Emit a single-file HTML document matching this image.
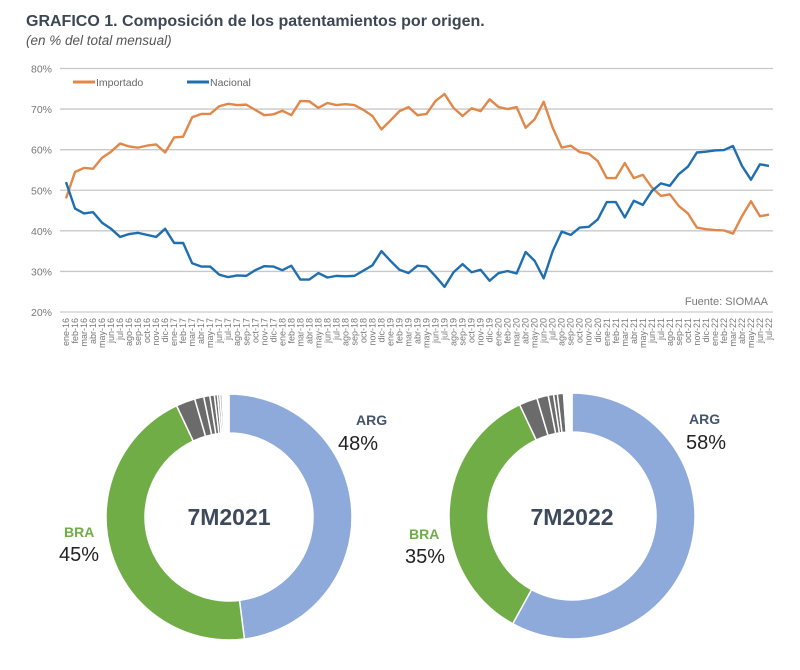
<!DOCTYPE html>
<html><head><meta charset="utf-8">
<style>
body{margin:0;background:#fff;width:800px;height:665px;overflow:hidden;font-family:"Liberation Sans",sans-serif;}
svg text{font-family:"Liberation Sans",sans-serif;}
</style></head>
<body>
<svg id="c" width="800" height="665" xmlns="http://www.w3.org/2000/svg">
<text x="26" y="26" font-size="16" font-weight="bold" fill="#3d4654">GRAFICO 1. Composición de los patentamientos por origen.</text>
<text x="26" y="45" font-size="13.5" font-style="italic" fill="#555">(en % del total mensual)</text>
<g id="grid"></g>
<g id="lines"></g>
<g id="xlabels"></g>
<line x1="73" y1="82" x2="95" y2="82" stroke="#e0884a" stroke-width="3"/>
<text x="96" y="86" font-size="10.5" fill="#666">Importado</text>
<line x1="187" y1="82" x2="209" y2="82" stroke="#1f6fae" stroke-width="3"/>
<text x="210" y="86" font-size="10.5" fill="#666">Nacional</text>
<text x="768" y="305" font-size="11" fill="#777" text-anchor="end">Fuente: SIOMAA</text>
<g id="donuts"></g>
<text x="356" y="425" font-size="14" font-weight="bold" fill="#44546a">ARG</text>
<text x="338" y="450" font-size="20" fill="#222">48%</text>
<text x="64" y="537" font-size="14" font-weight="bold" fill="#70ad47">BRA</text>
<text x="59" y="561" font-size="20" fill="#222">45%</text>
<text x="229" y="525" font-size="23" font-weight="bold" fill="#3d4a5c" text-anchor="middle">7M2021</text>
<text x="689" y="424" font-size="14" font-weight="bold" fill="#44546a">ARG</text>
<text x="686" y="449" font-size="20" fill="#222">58%</text>
<text x="409" y="539" font-size="14" font-weight="bold" fill="#70ad47">BRA</text>
<text x="405" y="563" font-size="20" fill="#222">35%</text>
<text x="572" y="525" font-size="23" font-weight="bold" fill="#3d4a5c" text-anchor="middle">7M2022</text>
</svg>
<script>
const importado=[48,54.5,55.5,55.3,58,59.5,61.5,60.8,60.5,61,61.3,59.3,63,63.2,68,68.8,68.8,70.7,71.3,71,71.1,69.8,68.5,68.7,69.6,68.5,72,71.9,70.3,71.5,71,71.2,71,69.8,68.3,65,67.2,69.5,70.5,68.5,68.8,72,73.7,70.3,68.3,70.2,69.5,72.4,70.5,70,70.5,65.4,67.5,71.8,65.4,60.5,61,59.4,59,57.2,53,53,56.7,53,53.8,50.7,48.6,49,46.1,44.3,40.8,40.4,40.2,40.1,39.3,43.6,47.3,43.6,44];
const nacional=[52,45.5,44.3,44.6,42,40.5,38.5,39.2,39.5,39,38.5,40.5,37,37,32,31.2,31.2,29.2,28.6,29,28.9,30.3,31.3,31.2,30.3,31.4,28,28,29.6,28.5,28.9,28.8,28.9,30.2,31.5,35,32.6,30.4,29.6,31.4,31.2,28.8,26.2,29.8,31.8,29.8,30.4,27.7,29.6,30.1,29.5,34.8,32.6,28.3,35,39.8,39,40.8,41,42.8,47.1,47.1,43.3,47.4,46.4,49.8,51.7,51.1,54,55.8,59.3,59.5,59.8,59.9,60.9,56,52.6,56.4,56];
const monthNames=["ene","feb","mar","abr","may","jun","jul","ago","sep","oct","nov","dic"];
const yTicks=[20,30,40,50,60,70,80];
const shares2021=[48,45,2.5,1.2,0.8,0.6,0.4,0.3,0.3,0.9];
const shares2022=[58,35,2.4,1.5,0.7,0.5,0.8,0.2,0.2,0.7];
const sliceColors=["#8eaadb","#70ad47","#6b6b6b","#6b6b6b","#6b6b6b","#6b6b6b","#6b6b6b","#888","#aaa","#fff"];

const NS="http://www.w3.org/2000/svg";
function mk(t,a,p){const e=document.createElementNS(NS,t);for(const k in a)e.setAttribute(k,a[k]);p.appendChild(e);return e;}
const x0=66,x1=769,yTop=68.5,yBot=312;
const N=importado.length;
const xS=i=>x0+(x1-x0)*i/(N-1);
const yS=v=>yBot-(v-20)/60*(yBot-yTop);

const grid=document.getElementById('grid');
yTicks.forEach(t=>{
  const l=mk('line',{x1:60,x2:773,y1:yS(t),y2:yS(t),stroke:t===20?'#ccc':'#c8c8c8','stroke-width':1.3},grid);
  
  
  const tx=mk('text',{x:52,y:yS(t)+4,'font-size':10.5,fill:'#777','text-anchor':'end'},grid);
  tx.textContent=t+'%';
  
  
});
const lines=document.getElementById('lines');
function drawLine(arr,col,name){
  const p=mk('polyline',{points:arr.map((v,i)=>xS(i)+','+yS(v)).join(' '),fill:'none',stroke:col,'stroke-width':2.4,'stroke-linejoin':'round'},lines);
  
  
}
drawLine(importado,'#e0884a','line-importado');
drawLine(nacional,'#1f6fae','line-nacional');
const xl=document.getElementById('xlabels');
for(let i=0;i<N;i++){
  const lab=monthNames[i%12]+'-'+(16+Math.floor(i/12));
  const t=mk('text',{x:0,y:0,'font-size':9,fill:'#777','text-anchor':'end',transform:`translate(${xS(i)+3},318) rotate(-90)`},xl);
  t.textContent=lab;
  
  
}
const dg=document.getElementById('donuts');
function donut(cx,cy,R,r,shares,name){
  const tot=shares.reduce((a,b)=>a+b,0);let acc=0;
  shares.forEach((s,i)=>{
    const a0=acc/tot*2*Math.PI,a1=(acc+s)/tot*2*Math.PI;acc+=s;
    const P=(rad,a)=>[cx+rad*Math.sin(a),cy-rad*Math.cos(a)];
    const [ax,ay]=P(R,a0),[bx,by]=P(R,a1),[cx2,cy2]=P(r,a1),[dx,dy]=P(r,a0);
    const lg=(a1-a0)>Math.PI?1:0;
    const p=mk('path',{d:`M${ax},${ay}A${R},${R} 0 ${lg} 1 ${bx},${by}L${cx2},${cy2}A${r},${r} 0 ${lg} 0 ${dx},${dy}Z`,fill:sliceColors[i],stroke:'#fff','stroke-width':1.5},dg);
    
    
  });
}
donut(229,517,123,84,shares2021,'donut-2021');
donut(572,516,123,84,shares2022,'donut-2022');
</script>
</body></html>
